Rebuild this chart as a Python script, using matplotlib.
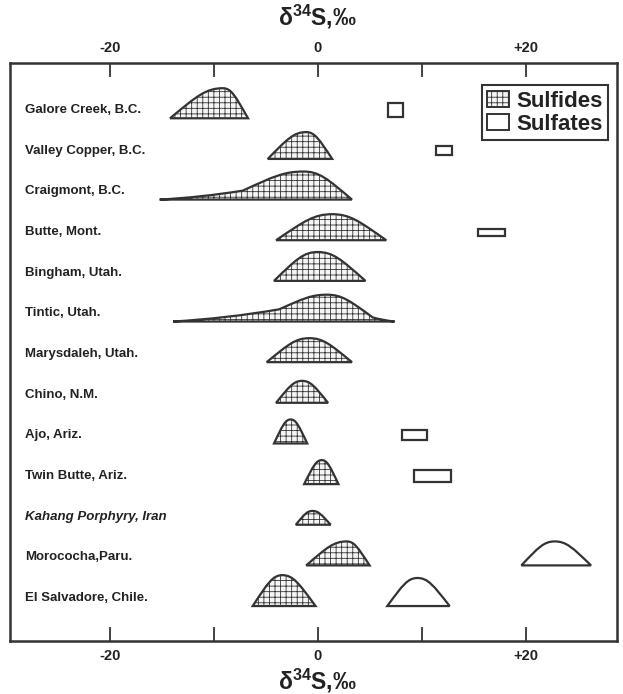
import matplotlib
matplotlib.use("Agg")
import matplotlib.pyplot as plt
from matplotlib.path import Path
from matplotlib.patches import PathPatch, Rectangle, Patch

plt.rcParams['font.family'] = ['Liberation Sans', 'DejaVu Sans']
plt.rcParams['mathtext.fontset'] = 'custom'
plt.rcParams['mathtext.rm'] = 'Liberation Sans:bold'
plt.rcParams['mathtext.bf'] = 'Liberation Sans:bold'
plt.rcParams['hatch.color'] = '#a8a8a8'
plt.rcParams['hatch.linewidth'] = 0.6

# deposits, top to bottom
localities = ['Galore Creek, B.C.', 'Valley Copper, B.C.', 'Craigmont, B.C.',
              'Butte, Mont.', 'Bingham, Utah.', 'Tintic, Utah.',
              'Marysdaleh, Utah.', 'Chino, N.M.', 'Ajo, Ariz.',
              'Twin Butte, Ariz.', 'Kahang Porphyry, Iran', 'Morococha,Paru.',
              'El Salvadore, Chile.']

# sulfide distributions (d34S per mil): low end, mode, high end, peak height
sulf_low = [-14.2, -4.8, -15.2, -4.0, -4.2, -13.9, -4.9, -4.0, -4.2, -1.3, -2.1, -1.1, -6.25]
sulf_mode = [-9.1, -1.1, -1.35, 1.4, 0.0, 0.9, -0.8, -1.5, -2.6, 0.4, -0.5, 2.8, -3.4]
sulf_high = [-6.7, 1.4, 3.3, 6.6, 4.6, 7.4, 3.3, 1.0, -1.0, 2.0, 1.25, 5.0, -0.2]
sulf_peak = [0.74, 0.66, 0.69, 0.64, 0.71, 0.66, 0.59, 0.54, 0.59, 0.59, 0.34, 0.59, 0.76]
# long low-side / high-side tails (x, height)
sulf_tail_low = {2: (-7.2, 0.22), 5: (-3.7, 0.30)}
sulf_tail_high = {5: (5.3, 0.10)}

# sulfate ranges shown as boxes
sulfate_box_rows = [0, 1, 3, 8, 9]
sulfate_box_low = [6.8, 11.4, 15.4, 8.1, 9.3]
sulfate_box_high = [8.2, 12.9, 18.0, 10.5, 12.8]
sulfate_box_h = [0.34, 0.22, 0.17, 0.25, 0.30]

# sulfate distributions
sulfate_rows = [11, 12]
sulfate_low = [19.6, 6.7]
sulfate_mode = [22.8, 9.6]
sulfate_high = [26.3, 12.7]
sulfate_peak = [0.59, 0.69]

tick_vals = [-20, -10, 0, 10, 20]
tick_text = ['-20', '', '0', '', '+20']

EDGE = '#333333'
BASE = 0.2  # baseline offset below the label line (rows)


def side(p0, corner, top, k=0.75):
    # straight flank from p0 toward corner, rounding into the flat top
    c1 = (p0[0] + k * (corner[0] - p0[0]), p0[1] + k * (corner[1] - p0[1]))
    return [c1, corner, top], [Path.CURVE4] * 3


def hump(low, mode, high, peak, y0, tail_lo=None, tail_hi=None, r=0.32):
    verts = [(low, y0)]
    codes = [Path.MOVETO]
    start = (low, y0)
    if tail_lo is not None:
        sx, sh = tail_lo
        verts += [((low + sx) / 2, y0 - 0.25 * sh), (sx, y0 - sh)]
        codes += [Path.CURVE3, Path.CURVE3]
        start = (sx, y0 - sh)
    top = (mode, y0 - peak)
    v, c = side(start, (mode - r * (mode - start[0]), y0 - peak), top)
    verts += v
    codes += c
    end = (high, y0)
    if tail_hi is not None:
        end = (tail_hi[0], y0 - tail_hi[1])
    v, c = side(end, (mode + r * (end[0] - mode), y0 - peak), top)
    # reverse the descending flank
    verts += [v[1], v[0], end]
    codes += c
    if tail_hi is not None:
        verts += [((tail_hi[0] + high) / 2, y0 - 0.25 * tail_hi[1]), (high, y0)]
        codes += [Path.CURVE3, Path.CURVE3]
    verts += [(low, y0)]
    codes += [Path.CLOSEPOLY]
    return Path(verts, codes)


fig = plt.figure(figsize=(6.23, 6.94), dpi=100)
ax = fig.add_axes([10 / 623, 1 - 641 / 694, 607 / 623, 578 / 694])

for i, name in enumerate(localities):
    y0 = i + BASE
    p = hump(sulf_low[i], sulf_mode[i], sulf_high[i], sulf_peak[i], y0,
             sulf_tail_low.get(i), sulf_tail_high.get(i))
    ax.add_patch(PathPatch(p, facecolor='#f5f5f5', edgecolor=EDGE, lw=1.6,
                           hatch='+++', zorder=3))
    style = 'italic' if 'Kahang' in name else 'normal'
    ax.text(0.025, i, name, transform=ax.get_yaxis_transform(), fontsize=9.5,
            fontweight='bold', fontstyle=style, color='#222222', va='center')

for k, row in enumerate(sulfate_box_rows):
    h = sulfate_box_h[k]
    ax.add_patch(Rectangle((sulfate_box_low[k], row - h / 2),
                           sulfate_box_high[k] - sulfate_box_low[k], h,
                           facecolor='white', edgecolor=EDGE, lw=1.6, zorder=3))

for k, row in enumerate(sulfate_rows):
    p = hump(sulfate_low[k], sulfate_mode[k], sulfate_high[k], sulfate_peak[k], row + BASE)
    ax.add_patch(PathPatch(p, facecolor='white', edgecolor=EDGE, lw=1.6, zorder=3))

ax.set_xlim(-29.6, 28.8)
ax.set_ylim(13.06, -1.16)
ax.set_xticks(tick_vals)
ax.set_xticklabels(tick_text)
ax.set_yticks([])
ax.tick_params(axis='x', direction='in', length=10, width=1.3, color=EDGE,
               top=True, labeltop=True, labelsize=10.5)
ax.xaxis.set_tick_params(which='major', pad=6)
for t in ax.xaxis.get_major_ticks():
    t.set_pad(6)
for lab in ax.get_xticklabels():
    lab.set_fontweight('bold')
    lab.set_color('#222222')
for s in ax.spines.values():
    s.set_color(EDGE)
    s.set_linewidth(1.8)

title = r'δ$^{\mathbf{34}}$S,‰'
fig.text(0.51, 1 - 17 / 694, title, ha='center', va='center', fontsize=16.5,
         fontweight='bold', color='#222222')
fig.text(0.51, 1 - 681 / 694, title, ha='center', va='center', fontsize=16.5,
         fontweight='bold', color='#222222')

handles = [Patch(facecolor='#f5f5f5', edgecolor=EDGE, hatch='+++', lw=1.4),
           Patch(facecolor='white', edgecolor=EDGE, lw=1.4)]
leg = ax.legend(handles, ['Sulfides', 'Sulfates'], loc='upper right',
                bbox_to_anchor=(0.985, 0.962), fancybox=False, framealpha=1,
                edgecolor=EDGE, handlelength=1.0, handleheight=0.7,
                handletextpad=0.3, borderpad=0.25, labelspacing=0.1,
                borderaxespad=0, prop={'weight': 'bold', 'size': 16})
leg.get_frame().set_linewidth(1.5)
for t in leg.get_texts():
    t.set_color('#222222')

fig.savefig('out.png', dpi=100)
